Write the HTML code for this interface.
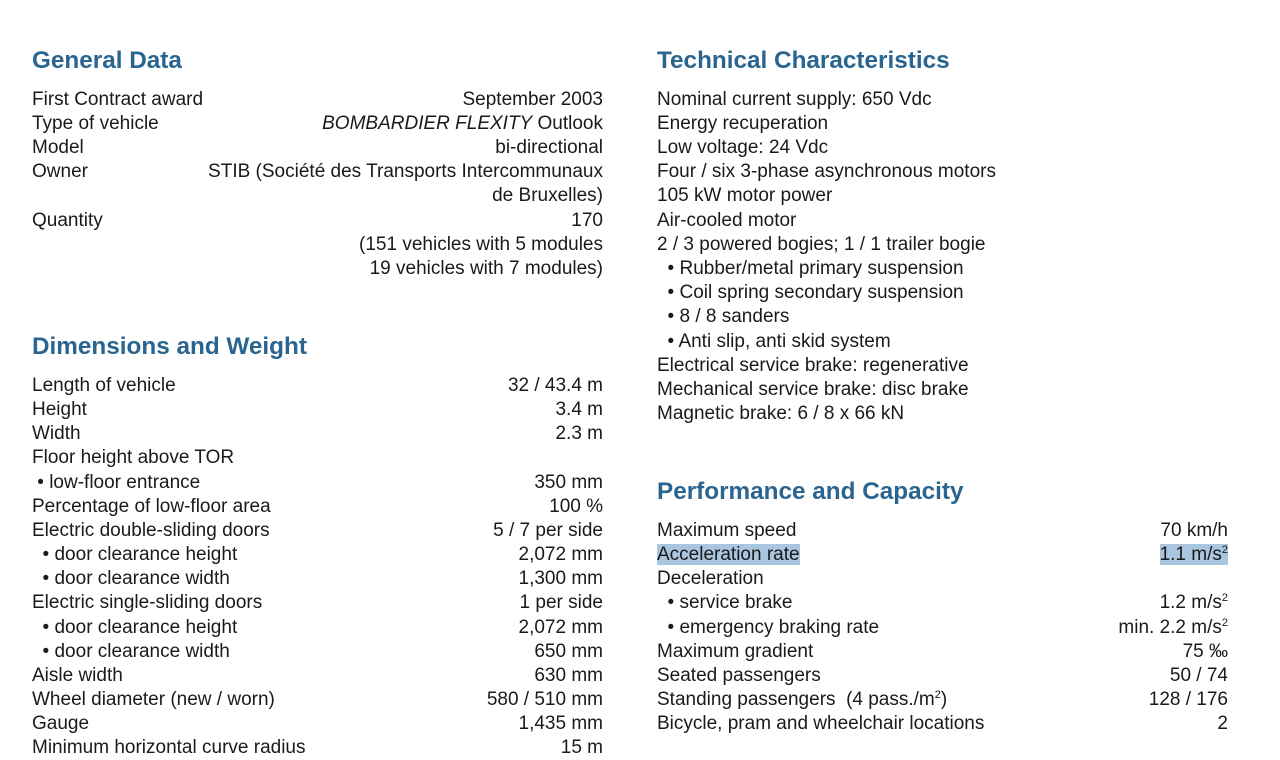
<!DOCTYPE html><html><head><meta charset="utf-8"><style>
body{margin:0;width:1280px;height:751px;overflow:hidden;background:#fff;font-family:"Liberation Sans",sans-serif;color:#1a1a1a;position:relative}
.h{position:absolute;font-weight:bold;font-size:24.3px;color:#2a6590;line-height:30px}
.r{position:absolute;font-size:19px;line-height:24px;height:24px;white-space:nowrap}
.L{left:32px}.LR{right:677px;text-align:right}.R{left:657px}.RR{right:52px;text-align:right}
.hl{background:#a9c5e0}
sup{font-size:11px;line-height:0;vertical-align:7px}
</style></head><body>
<div class="h L" style="top:46px">General Data</div>
<div class="h R" style="top:46px">Technical Characteristics</div>
<div class="h L" style="top:332px">Dimensions and Weight</div>
<div class="h R" style="top:477px">Performance and Capacity</div>
<div id="c"></div>
<script>
var L=[[98,"First Contract award","September 2003"],[122,"Type of vehicle","<i>BOMBARDIER FLEXITY</i> Outlook"],[146,"Model","bi-directional"],[170,"Owner","STIB (Société des Transports Intercommunaux"],[194,"","de Bruxelles)"],[219,"Quantity","170"],[243,"","(151 vehicles with 5 modules"],[267,"","19 vehicles with 7 modules)"],
[384,"Length of vehicle","32 / 43.4 m"],[408,"Height","3.4 m"],[432,"Width","2.3 m"],[456,"Floor height above TOR",""],[481,"&nbsp;• low-floor entrance","350 mm"],[505,"Percentage of low-floor area","100 %"],[529,"Electric double-sliding doors","5 / 7 per side"],[553,"&nbsp;&nbsp;• door clearance height","2,072 mm"],[577,"&nbsp;&nbsp;• door clearance width","1,300 mm"],[601,"Electric single-sliding doors","1 per side"],[626,"&nbsp;&nbsp;• door clearance height","2,072 mm"],[650,"&nbsp;&nbsp;• door clearance width","650 mm"],[674,"Aisle width","630 mm"],[698,"Wheel diameter (new / worn)","580 / 510 mm"],[722,"Gauge","1,435 mm"],[746,"Minimum horizontal curve radius","15 m"]];
var R=[[98,"Nominal current supply: 650 Vdc",""],[122,"Energy recuperation",""],[146,"Low voltage: 24 Vdc",""],[170,"Four / six 3-phase asynchronous motors",""],[194,"105 kW motor power",""],[219,"Air-cooled motor",""],[243,"2 / 3 powered bogies; 1 / 1 trailer bogie",""],[267,"&nbsp;&nbsp;• Rubber/metal primary suspension",""],[291,"&nbsp;&nbsp;• Coil spring secondary suspension",""],[315,"&nbsp;&nbsp;• 8 / 8 sanders",""],[340,"&nbsp;&nbsp;• Anti slip, anti skid system",""],[364,"Electrical service brake: regenerative",""],[388,"Mechanical service brake: disc brake",""],[412,"Magnetic brake: 6 / 8 x 66 kN",""],
[529,"Maximum speed","70 km/h"],[553,"<span class=hl>Acceleration rate</span>","<span class=hl>1.1 m/s<sup>2</sup></span>"],[577,"Deceleration",""],[601,"&nbsp;&nbsp;• service brake","1.2 m/s<sup>2</sup>"],[626,"&nbsp;&nbsp;• emergency braking rate","min. 2.2 m/s<sup>2</sup>"],[650,"Maximum gradient","75 ‰"],[674,"Seated passengers","50 / 74"],[698,"Standing passengers&nbsp; (4 pass./m<sup>2</sup>)","128 / 176"],[722,"Bicycle, pram and wheelchair locations","2"]];
var h="";
L.forEach(function(r){h+='<div class="r L" style="top:'+(r[0]-10)+'px">'+r[1]+'</div><div class="r LR" style="top:'+(r[0]-10)+'px">'+r[2]+'</div>'});
R.forEach(function(r){h+='<div class="r R" style="top:'+(r[0]-10)+'px">'+r[1]+'</div><div class="r RR" style="top:'+(r[0]-10)+'px">'+r[2]+'</div>'});
document.getElementById("c").innerHTML=h;
</script>
</body></html>
